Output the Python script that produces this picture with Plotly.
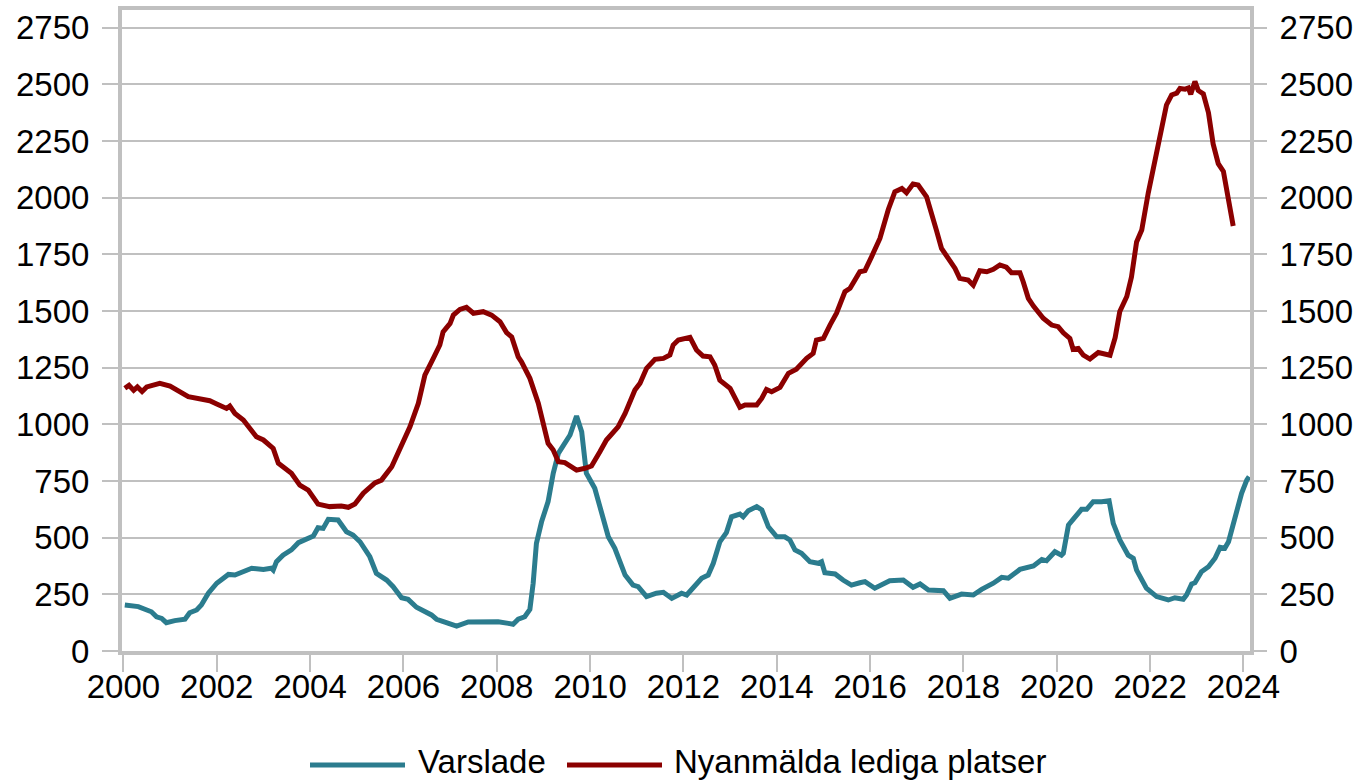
import plotly.graph_objects as go

# ---- data ----
varslade_x = [2000.03, 2000.32, 2000.6, 2000.71, 2000.82, 2000.92, 2001.1, 2001.32, 2001.42, 2001.57,
              2001.67, 2001.82, 2002.0, 2002.1, 2002.25, 2002.39, 2002.57, 2002.75, 2003.0, 2003.17,
              2003.21, 2003.28, 2003.42, 2003.6, 2003.75, 2003.92, 2004.07, 2004.17, 2004.28, 2004.39,
              2004.6, 2004.78, 2004.92, 2005.07, 2005.28, 2005.42, 2005.64, 2005.78, 2005.96, 2006.1,
              2006.28, 2006.6, 2006.71, 2006.92, 2007.14, 2007.39, 2007.57, 2007.78, 2008.03, 2008.25,
              2008.35, 2008.46, 2008.6, 2008.71, 2008.78, 2008.85, 2008.96, 2009.1, 2009.21, 2009.32,
              2009.46, 2009.57, 2009.71, 2009.82, 2009.92, 2010.1, 2010.21, 2010.39, 2010.53, 2010.75,
              2010.92, 2011.03, 2011.21, 2011.42, 2011.57, 2011.75, 2011.96, 2012.07, 2012.39, 2012.53,
              2012.64, 2012.78, 2012.92, 2013.03, 2013.21, 2013.28, 2013.39, 2013.57, 2013.68, 2013.82,
              2014.0, 2014.17, 2014.28, 2014.39, 2014.53, 2014.71, 2014.89, 2014.96, 2015.03, 2015.25,
              2015.42, 2015.6, 2015.78, 2015.89, 2016.1, 2016.28, 2016.42, 2016.71, 2016.92, 2017.07,
              2017.25, 2017.57, 2017.71, 2017.96, 2018.21, 2018.39, 2018.64, 2018.82, 2018.96, 2019.21,
              2019.5, 2019.68, 2019.78, 2019.96, 2020.1, 2020.14, 2020.25, 2020.35, 2020.53, 2020.64,
              2020.78, 2020.96, 2021.12, 2021.21, 2021.35, 2021.53, 2021.64, 2021.71, 2021.82, 2021.92,
              2022.14, 2022.21, 2022.39, 2022.53, 2022.71, 2022.78, 2022.89, 2022.96, 2023.1, 2023.25,
              2023.39, 2023.5, 2023.6, 2023.68, 2023.82, 2023.96, 2024.07, 2024.12]
varslade_y = [203, 196, 173, 151, 144, 125, 134, 140, 169, 181,
              203, 255, 299, 313, 338, 335, 350, 365, 360, 365,
              357, 394, 423, 446, 478, 493, 507, 544, 541, 581,
              578, 526, 512, 482, 416, 343, 313, 284, 235, 228,
              193, 159, 140, 125, 110, 128, 128, 125, 129, 122,
              118, 140, 151, 184, 299, 475, 570, 659, 784, 872,
              923, 953, 1037, 967, 784, 718, 637, 504, 453, 335,
              291, 284, 240, 255, 259, 232, 255, 247, 321, 335,
              387, 482, 522, 592, 604, 592, 619, 637, 622, 548,
              504, 504, 490, 446, 431, 394, 387, 394, 345, 340,
              313, 291, 301, 306, 277, 296, 310, 313, 281, 296,
              269, 266, 232, 251, 247, 272, 299, 325, 321, 360,
              375, 404, 398, 438, 423, 431, 556, 581, 625, 625,
              659, 659, 663, 563, 490, 423, 409, 357, 313, 277,
              240, 237, 225, 235, 228, 247, 296, 301, 350, 372,
              409, 457, 453, 482, 600, 696, 754, 769]

platser_x = [2000.03, 2000.12, 2000.22, 2000.3, 2000.4, 2000.5, 2000.78, 2001.0, 2001.39, 2001.64,
             2001.85, 2002.0, 2002.21, 2002.28, 2002.39, 2002.57, 2002.85, 2003.0, 2003.21, 2003.32,
             2003.6, 2003.78, 2003.96, 2004.17, 2004.42, 2004.67, 2004.82, 2004.96, 2005.14, 2005.39,
             2005.53, 2005.75, 2005.92, 2006.14, 2006.32, 2006.46, 2006.64, 2006.78, 2006.85, 2007.0,
             2007.07, 2007.21, 2007.35, 2007.5, 2007.71, 2007.89, 2008.07, 2008.21, 2008.32, 2008.46,
             2008.53, 2008.71, 2008.89, 2009.1, 2009.21, 2009.32, 2009.46, 2009.71, 2009.89, 2010.03,
             2010.21, 2010.35, 2010.6, 2010.75, 2010.96, 2011.07, 2011.21, 2011.39, 2011.57, 2011.71,
             2011.78, 2011.89, 2012.14, 2012.28, 2012.42, 2012.57, 2012.67, 2012.78, 2013.0, 2013.1,
             2013.21, 2013.32, 2013.57, 2013.68, 2013.78, 2013.89, 2014.07, 2014.25, 2014.42, 2014.64,
             2014.78, 2014.85, 2015.0, 2015.14, 2015.28, 2015.46, 2015.57, 2015.78, 2015.89, 2016.03,
             2016.21, 2016.39, 2016.53, 2016.68, 2016.78, 2016.92, 2017.03, 2017.21, 2017.32, 2017.42,
             2017.53, 2017.71, 2017.82, 2017.92, 2018.1, 2018.21, 2018.35, 2018.5, 2018.64, 2018.78,
             2018.92, 2019.03, 2019.21, 2019.28, 2019.39, 2019.5, 2019.71, 2019.89, 2020.03, 2020.14,
             2020.28, 2020.35, 2020.46, 2020.57, 2020.71, 2020.89, 2021.0, 2021.14, 2021.25, 2021.35,
             2021.5, 2021.6, 2021.71, 2021.82, 2021.96, 2022.1, 2022.21, 2022.35, 2022.46, 2022.57,
             2022.64, 2022.75, 2022.82, 2022.87, 2022.96, 2023.03, 2023.14, 2023.25, 2023.35, 2023.46,
             2023.57, 2023.68, 2023.78]
platser_y = [1159, 1172, 1150, 1165, 1145, 1165, 1181, 1169, 1122, 1110,
             1104, 1090, 1070, 1081, 1048, 1019, 945, 931, 894, 828,
             784, 732, 710, 648, 637, 640, 634, 648, 696, 742,
             754, 813, 887, 989, 1093, 1217, 1291, 1350, 1408, 1445,
             1482, 1507, 1516, 1490, 1497, 1482, 1453, 1405, 1386, 1298,
             1276, 1203, 1093, 916, 887, 835, 831, 798, 806, 816,
             879, 931, 989, 1048, 1151, 1181, 1247, 1287, 1291, 1306,
             1350, 1372, 1384, 1328, 1301, 1298, 1262, 1195, 1159, 1122,
             1075, 1085, 1085, 1115, 1154, 1144, 1163, 1225, 1243, 1291,
             1313, 1372, 1379, 1438, 1490, 1585, 1600, 1673, 1678, 1739,
             1820, 1948, 2026, 2041, 2022, 2060, 2056, 2004, 1916, 1857,
             1776, 1717, 1688, 1644, 1637, 1614, 1678, 1673, 1684, 1703,
             1693, 1669, 1669, 1629, 1556, 1522, 1468, 1438, 1431, 1404,
             1379, 1331, 1335, 1305, 1288, 1317, 1314, 1305, 1382, 1498,
             1564, 1650, 1805, 1857, 2021, 2168, 2288, 2409, 2453, 2461,
             2482, 2479, 2484, 2456, 2513, 2473, 2458, 2375, 2237, 2150,
             2116, 1995, 1875]

series_names = ["Varslade", "Nyanmälda lediga platser"]
series_colors = ["#2B7C8E", "#8B0000"]
x_ticks = list(range(2000, 2025, 2))
y_ticks = list(range(0, 2751, 250))

# ---- layout geometry ----
W, H = 1359, 781
L, R, T, B = 122, 109, 10, 130
FONT = "Liberation Sans, Arial, sans-serif"
FS = 33
GRID = "#C0C0C0"

fig = go.Figure()
fig.add_trace(go.Scatter(x=varslade_x, y=varslade_y, mode="lines", name=series_names[0],
                         line=dict(color=series_colors[0], width=5), showlegend=False))
fig.add_trace(go.Scatter(x=platser_x, y=platser_y, mode="lines", name=series_names[1],
                         line=dict(color=series_colors[1], width=5), showlegend=False))
# invisible trace to activate right axis
fig.add_trace(go.Scatter(x=[2000], y=[0], yaxis="y2", mode="lines", line=dict(width=0),
                         showlegend=False, hoverinfo="skip"))

yr = [0, 2828]
fig.update_layout(
    width=W, height=H,
    margin=dict(l=L, r=R, t=T, b=B, autoexpand=False),
    paper_bgcolor="white", plot_bgcolor="white",
    font=dict(family=FONT, size=FS, color="black"),
    xaxis=dict(range=[1999.97, 2024.14], tickvals=x_ticks, ticktext=[str(v) for v in x_ticks],
               showgrid=False, zeroline=False, showline=True, linecolor=GRID, linewidth=4,
               mirror=True, ticks="outside", ticklen=17, tickwidth=2, tickcolor=GRID,
               tickfont=dict(size=FS, family=FONT), ticklabelstandoff=-14, automargin=False),
    yaxis=dict(range=yr, tickvals=y_ticks, showgrid=True, gridcolor=GRID, gridwidth=2,
               zeroline=False, showline=True, linecolor=GRID, linewidth=4, mirror=True,
               ticks="outside", ticklen=16, tickwidth=2, tickcolor=GRID,
               tickfont=dict(size=FS, family=FONT), ticklabelstandoff=6, automargin=False),
    yaxis2=dict(range=yr, tickvals=y_ticks, overlaying="y", side="right", showgrid=False,
                zeroline=False, showline=False, ticks="outside", ticklen=16, tickwidth=2,
                tickcolor=GRID, tickfont=dict(size=FS, family=FONT), ticklabelstandoff=6,
                automargin=False),
)

# ---- custom legend (long line samples like the original) ----
pw, ph = W - L - R, H - T - B
def px2x(px):
    return (px - L) / pw
def py2y(py):
    return (H - B - py) / ph

legend_items = [(310, 405, 416), (567, 662, 672)]
ly = 765
for (x0, x1, tx), name, col in zip(legend_items, series_names, series_colors):
    fig.add_shape(type="line", xref="paper", yref="paper", x0=px2x(x0), x1=px2x(x1),
                  y0=py2y(ly), y1=py2y(ly), line=dict(color=col, width=5))
    fig.add_annotation(xref="paper", yref="paper", x=px2x(tx), y=py2y(761), text=name,
                       showarrow=False, xanchor="left", yanchor="middle",
                       font=dict(size=FS, family=FONT, color="black"))

fig.write_html("out.html", config={"displayModeBar": False},
               post_script="document.body.style.margin='0';document.body.style.overflow='hidden';")
